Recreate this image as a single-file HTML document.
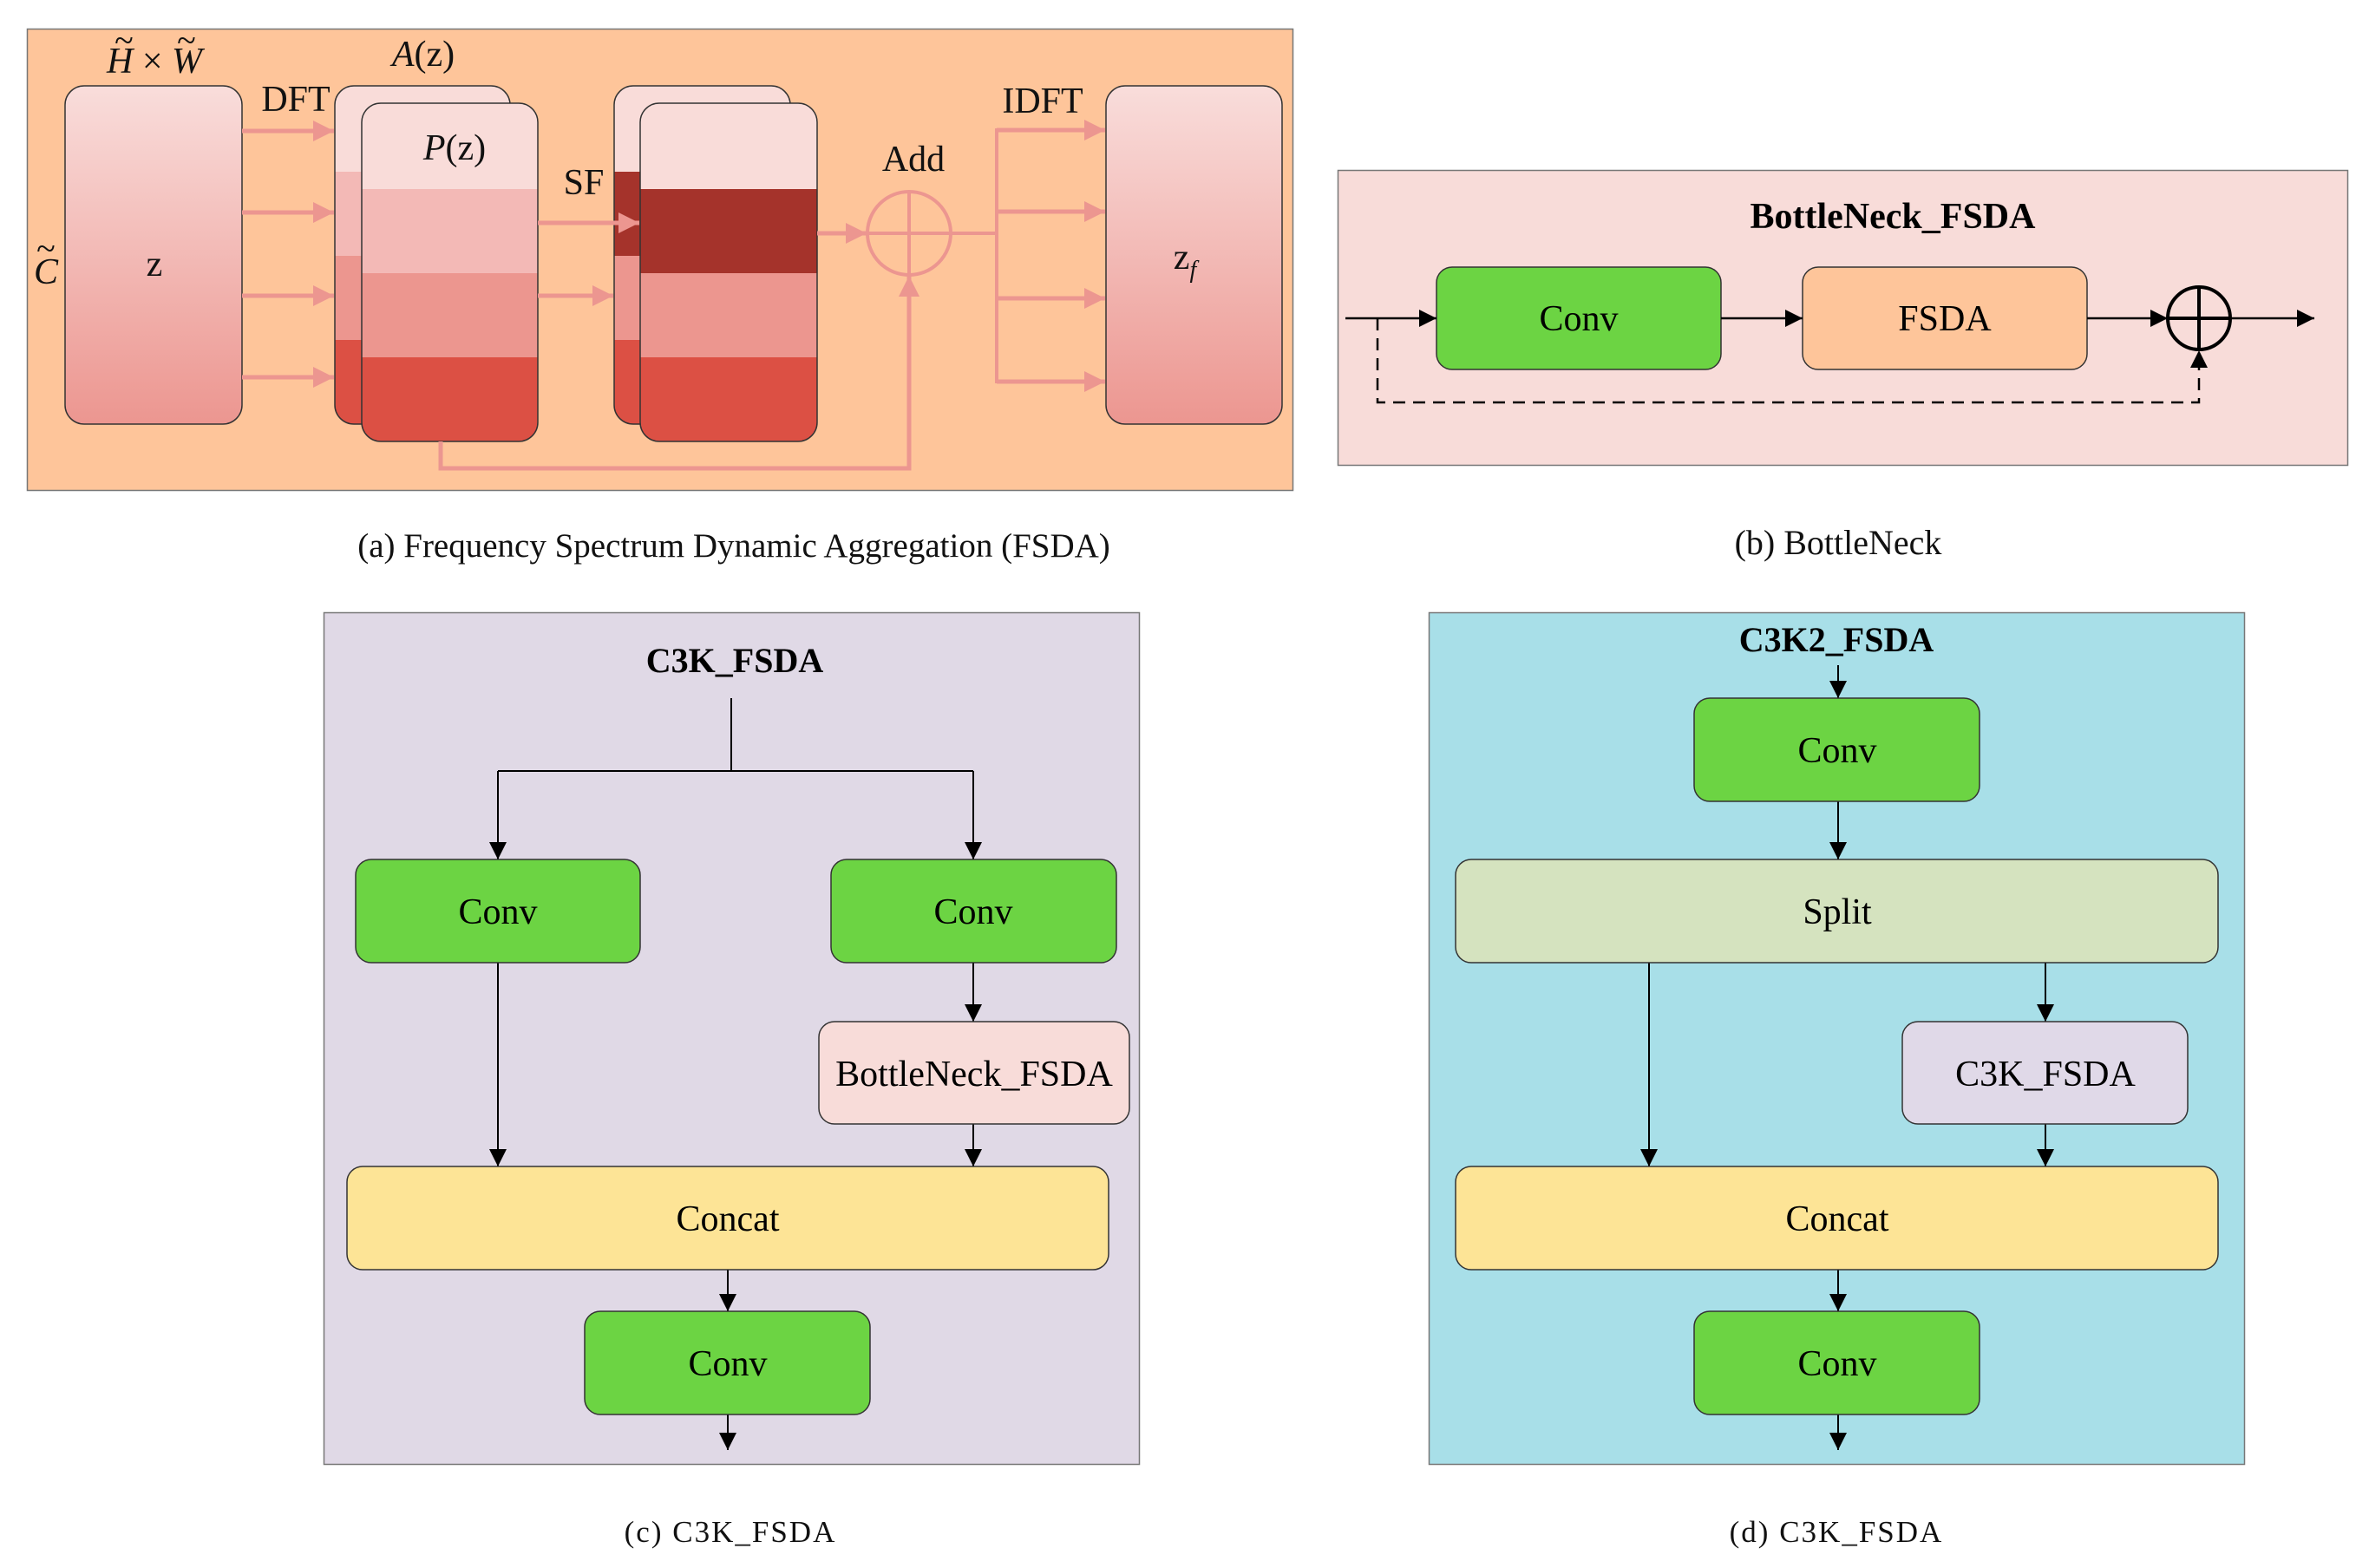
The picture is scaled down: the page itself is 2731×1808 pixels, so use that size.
<!DOCTYPE html>
<html><head><meta charset="utf-8"><style>html,body{margin:0;padding:0;background:#fff}svg{display:block}</style></head>
<body>
<svg width="2731" height="1808" viewBox="0 0 2731 1808" xmlns="http://www.w3.org/2000/svg" font-family="'Liberation Serif', serif">
<defs>
<linearGradient id="gz" x1="0" y1="0" x2="0" y2="1"><stop offset="0" stop-color="#f9dddb"/><stop offset="1" stop-color="#ec9690"/></linearGradient>
<clipPath id="c1"><rect x="386" y="99" width="202" height="390" rx="22"/></clipPath>
<clipPath id="c2"><rect x="417" y="119" width="203" height="390" rx="22"/></clipPath>
<clipPath id="c3"><rect x="708" y="99" width="203" height="390" rx="22"/></clipPath>
<clipPath id="c4"><rect x="738" y="119" width="204" height="390" rx="22"/></clipPath>
<marker id="pa" viewBox="0 0 8 8" refX="8" refY="4" markerWidth="24" markerHeight="30" orient="auto" markerUnits="userSpaceOnUse"><path d="M0,0 L8,4 L0,8 z" fill="#ec9690"/></marker>
<marker id="ba" viewBox="0 0 10 10" refX="10" refY="5" markerWidth="20" markerHeight="22" orient="auto" markerUnits="userSpaceOnUse"><path d="M0,0 L10,5 L0,10 z" fill="#000"/></marker>
</defs>

<!-- Panel a -->
<rect x="31.5" y="33.5" width="1459" height="532" fill="#fec59a" stroke="#777" stroke-width="1.5"/>
<rect x="75" y="99" width="204" height="390" rx="22" fill="url(#gz)" stroke="#333" stroke-width="1.5"/>
<rect x="1275" y="99" width="203" height="390" rx="22" fill="url(#gz)" stroke="#333" stroke-width="1.5"/>
<g clip-path="url(#c1)"><rect x="386" y="99" width="202" height="99" fill="#f9dcd9"/><rect x="386" y="198" width="202" height="97" fill="#f3b9b6"/><rect x="386" y="295" width="202" height="97" fill="#ec968f"/><rect x="386" y="392" width="202" height="97" fill="#dc5044"/></g>
<rect x="386" y="99" width="202" height="390" rx="22" fill="none" stroke="#333" stroke-width="1.5"/>
<g clip-path="url(#c2)"><rect x="417" y="119" width="203" height="99" fill="#f9dcd9"/><rect x="417" y="218" width="203" height="97" fill="#f3b9b6"/><rect x="417" y="315" width="203" height="97" fill="#ec968f"/><rect x="417" y="412" width="203" height="97" fill="#dc5044"/></g>
<rect x="417" y="119" width="203" height="390" rx="22" fill="none" stroke="#333" stroke-width="1.5"/>
<g clip-path="url(#c3)"><rect x="708" y="99" width="203" height="99" fill="#f9dcd9"/><rect x="708" y="198" width="203" height="97" fill="#a5332b"/><rect x="708" y="295" width="203" height="97" fill="#ec968f"/><rect x="708" y="392" width="203" height="97" fill="#dc5044"/></g>
<rect x="708" y="99" width="203" height="390" rx="22" fill="none" stroke="#333" stroke-width="1.5"/>
<g clip-path="url(#c4)"><rect x="738" y="119" width="204" height="99" fill="#f9dcd9"/><rect x="738" y="218" width="204" height="97" fill="#a5332b"/><rect x="738" y="315" width="204" height="97" fill="#ec968f"/><rect x="738" y="412" width="204" height="97" fill="#dc5044"/></g>
<rect x="738" y="119" width="204" height="390" rx="22" fill="none" stroke="#333" stroke-width="1.5"/>

<g stroke="#ec9690" stroke-width="5" fill="none" marker-end="url(#pa)">
<line x1="279" y1="151" x2="385" y2="151"/><line x1="279" y1="245" x2="385" y2="245"/><line x1="279" y1="341" x2="385" y2="341"/><line x1="279" y1="435" x2="385" y2="435"/>
<line x1="620" y1="257" x2="737" y2="257"/><line x1="620" y1="341" x2="707" y2="341"/>
<line x1="942" y1="269" x2="999" y2="269"/>
<polyline points="508,509 508,540 1048,540 1048,318"/>
<line x1="1149" y1="150" x2="1274" y2="150"/><line x1="1149" y1="244" x2="1274" y2="244"/><line x1="1149" y1="344" x2="1274" y2="344"/><line x1="1149" y1="440" x2="1274" y2="440"/>
</g>
<g stroke="#ec9690" stroke-width="4" fill="none">
<line x1="1096" y1="269" x2="1149" y2="269"/><line x1="1149" y1="148" x2="1149" y2="442"/>
<circle cx="1048" cy="269" r="48"/><line x1="1000" y1="269" x2="1096" y2="269"/><line x1="1048" y1="221" x2="1048" y2="317"/>
</g>
<g font-size="42" fill="#111" text-anchor="middle">
<text x="178" y="84" font-style="italic">H<tspan font-style="normal"> × </tspan>W</text>
<text x="143" y="60" font-size="40">~</text><text x="215" y="60" font-size="40">~</text>
<text x="488" y="76"><tspan font-style="italic">A</tspan>(z)</text>
<text x="341" y="128">DFT</text>
<text x="524" y="184"><tspan font-style="italic">P</tspan>(z)</text>
<text x="673" y="224">SF</text>
<text x="1053" y="197">Add</text>
<text x="1202" y="130">IDFT</text>
<text x="53" y="327" font-style="italic">C</text><text x="53" y="300" font-size="40">~</text>
<text x="178" y="318">z</text>
<text x="1366" y="310">z<tspan font-size="28" font-style="italic" dy="10">f</tspan></text>
</g>
<text x="846" y="642" font-size="39" text-anchor="middle" fill="#111">(a) Frequency Spectrum Dynamic Aggregation (FSDA)</text>

<!-- Panel b -->
<rect x="1542.5" y="196.5" width="1164" height="340" fill="#f8dcd9" stroke="#777" stroke-width="1.5"/>
<text x="2182" y="263" font-size="42" font-weight="bold" text-anchor="middle" fill="#000">BottleNeck_FSDA</text>
<rect x="1656" y="308" width="328" height="118" rx="18" fill="#6cd443" stroke="#333" stroke-width="1.5"/>
<rect x="2078" y="308" width="328" height="118" rx="18" fill="#fec59a" stroke="#333" stroke-width="1.5"/>
<text x="1820" y="381" font-size="42" text-anchor="middle">Conv</text>
<text x="2242" y="381" font-size="42" text-anchor="middle">FSDA</text>
<g stroke="#000" stroke-width="2.5" fill="none">
<line x1="1551" y1="367" x2="1656" y2="367" marker-end="url(#ba)"/>
<line x1="1984" y1="367" x2="2078" y2="367" marker-end="url(#ba)"/>
<line x1="2406" y1="367" x2="2499" y2="367" marker-end="url(#ba)"/>
<line x1="2571" y1="367" x2="2668" y2="367" marker-end="url(#ba)"/>
<circle cx="2535" cy="367" r="36" stroke-width="4"/><line x1="2499" y1="367" x2="2571" y2="367" stroke-width="4"/><line x1="2535" y1="331" x2="2535" y2="403" stroke-width="4"/>
<polyline points="1588,367 1588,464 2535,464 2535,404" stroke-dasharray="14,9" stroke-width="2.5" marker-end="url(#ba)"/>
</g>
<text x="2119" y="639" font-size="40" text-anchor="middle" fill="#111">(b) BottleNeck</text>

<!-- Panel c -->
<rect x="373.5" y="706.5" width="940" height="982" fill="#e0d9e6" stroke="#777" stroke-width="1.5"/>
<text x="847" y="775" font-size="40" font-weight="bold" text-anchor="middle">C3K_FSDA</text>
<g stroke="#000" stroke-width="2" fill="none">
<line x1="843" y1="805" x2="843" y2="889"/>
<line x1="574" y1="889" x2="1122" y2="889"/>
<line x1="574" y1="889" x2="574" y2="991" marker-end="url(#ba)"/>
<line x1="1122" y1="889" x2="1122" y2="991" marker-end="url(#ba)"/>
<line x1="1122" y1="1110" x2="1122" y2="1178" marker-end="url(#ba)"/>
<line x1="574" y1="1110" x2="574" y2="1345" marker-end="url(#ba)"/>
<line x1="1122" y1="1296" x2="1122" y2="1345" marker-end="url(#ba)"/>
<line x1="839" y1="1464" x2="839" y2="1512" marker-end="url(#ba)"/>
<line x1="839" y1="1631" x2="839" y2="1672" marker-end="url(#ba)"/>
</g>
<g stroke="#333" stroke-width="1.5">
<rect x="410" y="991" width="328" height="119" rx="18" fill="#6cd443"/>
<rect x="958" y="991" width="329" height="119" rx="18" fill="#6cd443"/>
<rect x="944" y="1178" width="358" height="118" rx="18" fill="#f8dcd9"/>
<rect x="400" y="1345" width="878" height="119" rx="18" fill="#fde496"/>
<rect x="674" y="1512" width="329" height="119" rx="18" fill="#6cd443"/>
</g>
<g font-size="42" text-anchor="middle">
<text x="574" y="1065">Conv</text><text x="1122" y="1065">Conv</text>
<text x="1123" y="1252">BottleNeck_FSDA</text>
<text x="839" y="1419">Concat</text>
<text x="839" y="1586">Conv</text>
</g>
<text x="842" y="1778" font-size="35" text-anchor="middle" fill="#111" letter-spacing="2">(c) C3K_FSDA</text>

<!-- Panel d -->
<rect x="1647.5" y="706.5" width="940" height="982" fill="#a8dfe8" stroke="#777" stroke-width="1.5"/>
<text x="2117" y="751" font-size="40" font-weight="bold" text-anchor="middle">C3K2_FSDA</text>
<g stroke="#000" stroke-width="2" fill="none">
<line x1="2119" y1="767" x2="2119" y2="805" marker-end="url(#ba)"/>
<line x1="2119" y1="924" x2="2119" y2="991" marker-end="url(#ba)"/>
<line x1="1901" y1="1110" x2="1901" y2="1345" marker-end="url(#ba)"/>
<line x1="2358" y1="1110" x2="2358" y2="1178" marker-end="url(#ba)"/>
<line x1="2358" y1="1296" x2="2358" y2="1345" marker-end="url(#ba)"/>
<line x1="2119" y1="1464" x2="2119" y2="1512" marker-end="url(#ba)"/>
<line x1="2119" y1="1631" x2="2119" y2="1672" marker-end="url(#ba)"/>
</g>
<g stroke="#333" stroke-width="1.5">
<rect x="1953" y="805" width="329" height="119" rx="18" fill="#6cd443"/>
<rect x="1678" y="991" width="879" height="119" rx="18" fill="#d5e3bf"/>
<rect x="2193" y="1178" width="329" height="118" rx="18" fill="#e0d9e8"/>
<rect x="1678" y="1345" width="879" height="119" rx="18" fill="#fde496"/>
<rect x="1953" y="1512" width="329" height="119" rx="18" fill="#6cd443"/>
</g>
<g font-size="42" text-anchor="middle">
<text x="2118" y="879">Conv</text>
<text x="2118" y="1065">Split</text>
<text x="2358" y="1252">C3K_FSDA</text>
<text x="2118" y="1419">Concat</text>
<text x="2118" y="1586">Conv</text>
</g>
<text x="2117" y="1778" font-size="35" text-anchor="middle" fill="#111" letter-spacing="2">(d) C3K_FSDA</text>
</svg>
</body></html>
